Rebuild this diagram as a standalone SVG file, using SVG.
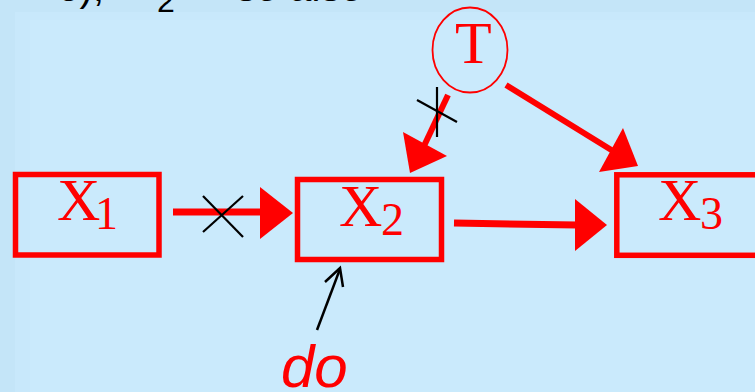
<svg xmlns="http://www.w3.org/2000/svg" width="755" height="392" viewBox="0 0 755 392">
<style>
.box{fill:none;stroke:#FF0000;stroke-width:5.5}
.lbl{font-family:"Liberation Serif","Times New Roman",serif;fill:#FF0000}
.edge{stroke:#FF0000;stroke-width:7;fill:none}
.head{fill:#FF0000;stroke:none}
.cut{stroke:#000000;stroke-width:2.2;fill:none}
.top{font-family:"Liberation Sans",Arial,sans-serif;fill:#000000}
</style>
<rect x="0" y="0" width="755" height="392" fill="#C4E5F8"/>
<rect x="15" y="12" width="740" height="380" fill="#C8E8FB"/>
<rect x="30" y="20" width="725" height="372" fill="#CAEAFC"/>
<g id="header-text">
<text class="top" font-size="40"><tspan x="104" y="1" text-anchor="end">e),</tspan><tspan x="157" y="12" font-size="32">2</tspan><tspan x="236" y="1">so also</tspan></text>
</g>
<g id="connectors">
<line class="edge" x1="173" y1="212" x2="262" y2="212"/>
<polygon class="head" points="260,187 293,213 260,239"/>
<line class="cut" x1="203" y1="196" x2="243" y2="237"/>
<line class="cut" x1="203" y1="232" x2="243" y2="196"/>
<line class="edge" x1="454" y1="223" x2="577" y2="225"/>
<polygon class="head" points="575,199 607,225 575,251"/>
<line class="edge" x1="448" y1="95" x2="424" y2="146" style="stroke-width:6"/>
<polygon class="head" points="403,132 447,156 410,173"/>
<line class="cut" x1="437" y1="87" x2="437" y2="137"/>
<line class="cut" x1="417" y1="100" x2="457" y2="122"/>
<line class="edge" x1="506" y1="85" x2="613" y2="151" style="stroke-width:6"/>
<polygon class="head" points="623,128 638,166 599,172"/>
<line x1="317" y1="330" x2="340" y2="269" stroke="#000000" stroke-width="2.5"/>
<polyline points="325,282 340,268 343,287" fill="none" stroke="#000000" stroke-width="2.5"/>
</g>
<g id="node-X1">
<rect class="box" x="15.5" y="174.5" width="143.5" height="80.5"/>
<text class="lbl" font-size="60"><tspan x="57" y="220">X</tspan><tspan x="95" y="229" font-size="46">1</tspan></text>
</g>
<g id="node-X2">
<rect class="box" x="297.5" y="179.5" width="144" height="80"/>
<text class="lbl" font-size="60"><tspan x="339" y="226">X</tspan><tspan x="381" y="235" font-size="46">2</tspan></text>
</g>
<g id="node-X3">
<rect class="box" x="616.8" y="174.8" width="150" height="80.5"/>
<text class="lbl" font-size="60"><tspan x="658" y="220">X</tspan><tspan x="700" y="229" font-size="46">3</tspan></text>
</g>
<g id="node-T">
<ellipse cx="470" cy="50" rx="37.5" ry="42.5" fill="none" stroke="#FF0000" stroke-width="1.8"/>
<text class="lbl" x="455" y="63" font-size="60">T</text>
</g>
<g id="label-do">
<text x="281" y="387" font-size="60" font-style="italic" font-family="'Liberation Sans',Arial,sans-serif" fill="#FF0000">do</text>
</g>
</svg>
